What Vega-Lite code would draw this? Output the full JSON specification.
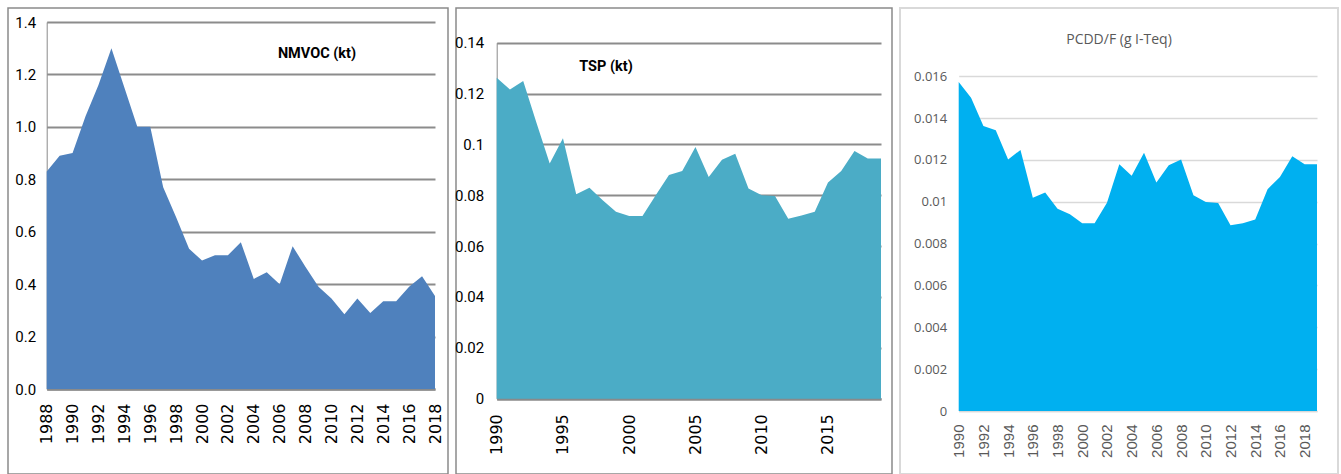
{
  "$schema": "https://vega.github.io/schema/vega-lite/v6.json",
  "background": "white",
  "padding": {"left": 7, "top": 7, "right": 0, "bottom": 0},
  "spacing": 8,
  "bounds": "flush",
  "config": {
    "view": {"stroke": "#8a8a8a", "strokeWidth": 1.5},
    "axis": {"title": null, "labelFlush": false, "labelOverlap": false, "ticks": false}
  },
  "datasets": {
    "nmvoc": [
      {"year": 1988, "value": 0.83}, {"year": 1989, "value": 0.89}, {"year": 1990, "value": 0.90},
      {"year": 1991, "value": 1.04}, {"year": 1992, "value": 1.16}, {"year": 1993, "value": 1.30},
      {"year": 1994, "value": 1.15}, {"year": 1995, "value": 1.00}, {"year": 1996, "value": 1.00},
      {"year": 1997, "value": 0.77}, {"year": 1998, "value": 0.655}, {"year": 1999, "value": 0.535},
      {"year": 2000, "value": 0.49}, {"year": 2001, "value": 0.51}, {"year": 2002, "value": 0.51},
      {"year": 2003, "value": 0.56}, {"year": 2004, "value": 0.42}, {"year": 2005, "value": 0.445},
      {"year": 2006, "value": 0.40}, {"year": 2007, "value": 0.545}, {"year": 2008, "value": 0.465},
      {"year": 2009, "value": 0.39}, {"year": 2010, "value": 0.345}, {"year": 2011, "value": 0.285},
      {"year": 2012, "value": 0.345}, {"year": 2013, "value": 0.29}, {"year": 2014, "value": 0.335},
      {"year": 2015, "value": 0.335}, {"year": 2016, "value": 0.39}, {"year": 2017, "value": 0.43},
      {"year": 2018, "value": 0.355}
    ],
    "tsp": [
      {"year": 1990, "value": 0.1262}, {"year": 1991, "value": 0.1216}, {"year": 1992, "value": 0.1249},
      {"year": 1993, "value": 0.1085}, {"year": 1994, "value": 0.0925}, {"year": 1995, "value": 0.1024},
      {"year": 1996, "value": 0.0804}, {"year": 1997, "value": 0.083}, {"year": 1998, "value": 0.078},
      {"year": 1999, "value": 0.0735}, {"year": 2000, "value": 0.0718}, {"year": 2001, "value": 0.0718},
      {"year": 2002, "value": 0.080}, {"year": 2003, "value": 0.088}, {"year": 2004, "value": 0.0895},
      {"year": 2005, "value": 0.099}, {"year": 2006, "value": 0.0872}, {"year": 2007, "value": 0.094},
      {"year": 2008, "value": 0.0963}, {"year": 2009, "value": 0.0827}, {"year": 2010, "value": 0.080},
      {"year": 2011, "value": 0.0797}, {"year": 2012, "value": 0.0708}, {"year": 2013, "value": 0.072},
      {"year": 2014, "value": 0.0735}, {"year": 2015, "value": 0.085}, {"year": 2016, "value": 0.0895},
      {"year": 2017, "value": 0.0974}, {"year": 2018, "value": 0.0945}, {"year": 2019, "value": 0.0945}
    ],
    "pcdd": [
      {"year": 1990, "value": 0.01573}, {"year": 1991, "value": 0.01498}, {"year": 1992, "value": 0.01363},
      {"year": 1993, "value": 0.01342}, {"year": 1994, "value": 0.01202}, {"year": 1995, "value": 0.01248},
      {"year": 1996, "value": 0.0102}, {"year": 1997, "value": 0.01045}, {"year": 1998, "value": 0.00967},
      {"year": 1999, "value": 0.0094}, {"year": 2000, "value": 0.00897}, {"year": 2001, "value": 0.00897},
      {"year": 2002, "value": 0.00996}, {"year": 2003, "value": 0.01179}, {"year": 2004, "value": 0.01124},
      {"year": 2005, "value": 0.01235}, {"year": 2006, "value": 0.01092}, {"year": 2007, "value": 0.01175},
      {"year": 2008, "value": 0.01202}, {"year": 2009, "value": 0.01031}, {"year": 2010, "value": 0.00999},
      {"year": 2011, "value": 0.00994}, {"year": 2012, "value": 0.00888}, {"year": 2013, "value": 0.00897},
      {"year": 2014, "value": 0.00915}, {"year": 2015, "value": 0.0106}, {"year": 2016, "value": 0.01119},
      {"year": 2017, "value": 0.01218}, {"year": 2018, "value": 0.01179}, {"year": 2019, "value": 0.01179}
    ]
  },
  "hconcat": [
    {
      "width": 440,
      "height": 466,
      "data": {"name": "nmvoc"},
      "title": {
        "text": "NMVOC (kt)", "anchor": "middle", "frame": "group", "orient": "top",
        "offset": -64, "dx": 89, "baseline": "alphabetic",
        "font": "Roboto", "fontSize": 14.5, "fontWeight": "bold", "color": "#000000"
      },
      "mark": {"type": "area", "color": "#4F81BD", "opacity": 1},
      "encoding": {
        "x": {
          "field": "year", "type": "quantitative",
          "scale": {"domain": [1988, 2018], "range": [38.7, 427], "nice": false, "zero": false},
          "axis": {
            "values": [1988, 1990, 1992, 1994, 1996, 1998, 2000, 2002, 2004, 2006, 2008, 2010, 2012, 2014, 2016, 2018],
            "format": "d", "labelAngle": -90, "offset": -85, "grid": false,
            "domainColor": "#8a8a8a", "domainWidth": 2.5,
            "labelFont": "DejaVu Sans", "labelFontSize": 16, "labelColor": "#000000", "labelPadding": 14
          }
        },
        "y": {
          "field": "value", "type": "quantitative",
          "scale": {"domain": [0, 1.4], "range": [381, 14], "nice": false},
          "axis": {
            "values": [0, 0.2, 0.4, 0.6, 0.8, 1.0, 1.2, 1.4],
            "format": ".1f", "offset": -38.7, "grid": true,
            "gridColor": "#8c8c8c", "gridWidth": 2,
            "domainColor": "#8a8a8a", "domainWidth": 1,
            "labelFont": "Roboto", "labelFontSize": 15, "labelColor": "#000000", "labelPadding": 11
          }
        }
      }
    },
    {
      "width": 436,
      "height": 466,
      "data": {"name": "tsp"},
      "title": {
        "text": "TSP (kt)", "anchor": "middle", "frame": "group", "orient": "top",
        "offset": -77, "dx": -68, "baseline": "alphabetic",
        "font": "Roboto", "fontSize": 14.5, "fontWeight": "bold", "color": "#000000"
      },
      "mark": {"type": "area", "color": "#4BACC6", "opacity": 1},
      "encoding": {
        "x": {
          "field": "year", "type": "quantitative",
          "scale": {"domain": [1990, 2019], "range": [40.7, 425], "nice": false, "zero": false},
          "axis": {
            "values": [1990, 1995, 2000, 2005, 2010, 2015],
            "format": "d", "labelAngle": -90, "offset": -75.3, "grid": false,
            "domainColor": "#8a8a8a", "domainWidth": 2.5,
            "labelFont": "DejaVu Sans", "labelFontSize": 16, "labelColor": "#000000", "labelPadding": 15
          }
        },
        "y": {
          "field": "value", "type": "quantitative",
          "scale": {"domain": [0, 0.14], "range": [390.7, 34.7], "nice": false},
          "axis": {
            "values": [0, 0.02, 0.04, 0.06, 0.08, 0.1, 0.12, 0.14],
            "format": "~g", "offset": -40.7, "grid": true,
            "gridColor": "#8c8c8c", "gridWidth": 2,
            "domainColor": "#8a8a8a", "domainWidth": 1,
            "labelFont": "Roboto", "labelFontSize": 15, "labelColor": "#000000", "labelPadding": 13
          }
        }
      }
    },
    {
      "width": 438,
      "height": 466,
      "view": {"stroke": "#d9d9d9", "strokeWidth": 2},
      "data": {"name": "pcdd"},
      "title": {
        "text": "PCDD/F (g I-Teq)", "anchor": "middle", "frame": "group", "orient": "top",
        "offset": -50, "dx": 0, "baseline": "alphabetic",
        "font": "Open Sans", "fontSize": 14, "fontWeight": "normal", "color": "#595959"
      },
      "mark": {"type": "area", "color": "#00B0F0", "opacity": 1},
      "encoding": {
        "x": {
          "field": "year", "type": "quantitative",
          "scale": {"domain": [1990, 2019], "range": [58.7, 417], "nice": false, "zero": false},
          "axis": {
            "values": [1990, 1992, 1994, 1996, 1998, 2000, 2002, 2004, 2006, 2008, 2010, 2012, 2014, 2016, 2018],
            "format": "d", "labelAngle": -90, "offset": -63, "grid": false,
            "domainColor": "#d9d9d9", "domainWidth": 1.5,
            "labelFont": "Liberation Sans", "labelFontSize": 15, "labelColor": "#595959", "labelPadding": 13
          }
        },
        "y": {
          "field": "value", "type": "quantitative",
          "scale": {"domain": [0, 0.016], "range": [403, 68.3], "nice": false},
          "axis": {
            "values": [0, 0.002, 0.004, 0.006, 0.008, 0.01, 0.012, 0.014, 0.016],
            "format": "~g", "offset": -58.7, "grid": true,
            "gridColor": "#d9d9d9", "gridWidth": 1.5, "domain": false,
            "labelFont": "Open Sans", "labelFontSize": 13, "labelColor": "#595959", "labelPadding": 12
          }
        }
      }
    }
  ]
}
